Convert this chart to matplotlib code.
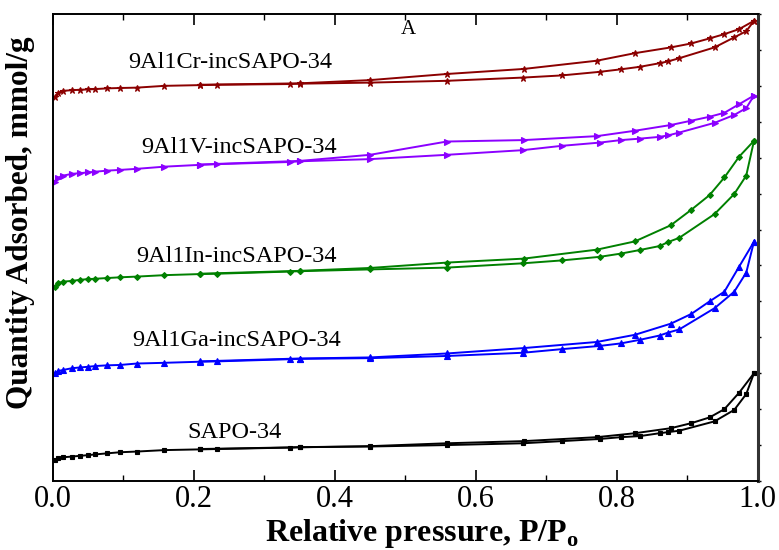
import matplotlib
matplotlib.use("Agg")
import matplotlib.pyplot as plt
from matplotlib.ticker import MultipleLocator

plt.rcParams["font.family"] = ["Liberation Serif", "DejaVu Serif"]
plt.rcParams["mathtext.fontset"] = "custom"
plt.rcParams["mathtext.rm"] = "Liberation Serif"
plt.rcParams["mathtext.bf"] = "Liberation Serif:bold"

# Relative pressure points (P/Po) for the adsorption and desorption branches
p_ads = [0.003, 0.007, 0.014, 0.027, 0.038, 0.05, 0.06, 0.077, 0.095, 0.119,
         0.158, 0.208, 0.233, 0.336, 0.35, 0.45, 0.559, 0.667, 0.722, 0.776,
         0.806, 0.833, 0.861, 0.873, 0.889, 0.939, 0.967, 0.984, 0.995]
p_des = [0.995, 0.974, 0.953, 0.932, 0.906, 0.877, 0.826, 0.772, 0.668,
         0.559, 0.45, 0.35, 0.208]

# Quantity adsorbed (curves stacked with vertical offsets)
cr_ads = [10.69, 10.80, 10.86, 10.88, 10.89, 10.90, 10.91, 10.93, 10.94, 10.95,
          11.00, 11.02, 11.03, 11.05, 11.06, 11.09, 11.14, 11.23, 11.29, 11.39,
          11.46, 11.53, 11.63, 11.68, 11.77, 12.07, 12.35, 12.52, 12.81]
cr_des = [12.81, 12.58, 12.44, 12.32, 12.18, 12.07, 11.91, 11.70, 11.47,
          11.33, 11.16, 11.07, 11.03]

v_ads = [8.33, 8.44, 8.50, 8.55, 8.57, 8.59, 8.61, 8.64, 8.66, 8.69,
         8.75, 8.80, 8.82, 8.88, 8.90, 8.96, 9.08, 9.21, 9.33, 9.42,
         9.49, 9.53, 9.58, 9.62, 9.70, 9.97, 10.19, 10.38, 10.73]
v_des = [10.73, 10.49, 10.25, 10.14, 10.03, 9.91, 9.75, 9.60, 9.49,
         9.45, 9.08, 8.91, 8.81]

in_ads = [5.41, 5.50, 5.55, 5.57, 5.60, 5.62, 5.63, 5.65, 5.67, 5.69,
          5.73, 5.76, 5.77, 5.83, 5.84, 5.89, 5.94, 6.06, 6.14, 6.24,
          6.33, 6.43, 6.54, 6.65, 6.77, 7.43, 7.99, 8.50, 9.47]
in_des = [9.47, 9.03, 8.45, 7.96, 7.55, 7.12, 6.67, 6.44, 6.19,
          6.08, 5.93, 5.85, 5.77]

ga_ads = [3.00, 3.06, 3.09, 3.14, 3.16, 3.18, 3.20, 3.22, 3.23, 3.27,
          3.29, 3.32, 3.33, 3.39, 3.40, 3.42, 3.48, 3.57, 3.67, 3.76,
          3.83, 3.93, 4.05, 4.13, 4.22, 4.81, 5.27, 5.80, 6.66]
ga_des = [6.66, 5.97, 5.27, 5.00, 4.65, 4.38, 4.07, 3.87, 3.70,
          3.55, 3.44, 3.41, 3.33]

sapo_ads = [0.585, 0.63, 0.66, 0.68, 0.70, 0.72, 0.74, 0.77, 0.80, 0.82,
            0.86, 0.88, 0.89, 0.93, 0.94, 0.96, 1.00, 1.05, 1.11, 1.17,
            1.22, 1.25, 1.33, 1.36, 1.40, 1.66, 1.98, 2.42, 3.00]
sapo_des = [3.00, 2.46, 2.00, 1.77, 1.61, 1.47, 1.33, 1.22, 1.11,
            1.05, 0.97, 0.94, 0.89]

names = ["9Al1Cr-incSAPO-34", "9Al1V-incSAPO-34", "9Al1In-incSAPO-34",
         "9Al1Ga-incSAPO-34", "SAPO-34"]

series = [
    (cr_ads, cr_des, "#8B0000", "*", 5),
    (v_ads, v_des, "#8B00FF", ">", 4),
    (in_ads, in_des, "#008000", "D", 3),
    (ga_ads, ga_des, "#0000FF", "^", 4),
    (sapo_ads, sapo_des, "#000000", "s", 3),
]

# label anchor (x, baseline y) in data units
label_pos = [(0.252, 11.49), (0.264, 9.12), (0.26, 6.11), (0.261, 3.77), (0.257, 1.19)]

fig = plt.figure(figsize=(7.79, 5.50), dpi=100)
ax = fig.add_axes([53 / 779, (550 - 481) / 550, (757.5 - 53) / 779, (481 - 14) / 550])

for (ads, des, color, marker, ms), name, (lx, ly) in zip(series, names, label_pos):
    ax.plot(p_ads, ads, color=color, marker=marker, markersize=ms, lw=1.4,
            markeredgewidth=0.8)
    ax.plot(p_des, des, color=color, marker=marker, markersize=ms, lw=1.4,
            markeredgewidth=0.8)
    ax.text(lx, ly, name, ha="center", va="baseline", fontsize=17.5)

ax.text(0.504, 12.44, "A", ha="center", va="baseline", fontsize=15)

ax.set_xlim(0, 1.0)
ax.set_ylim(0, 13)

ax.xaxis.set_minor_locator(MultipleLocator(0.1))
ax.set_xticks([0.0, 0.2, 0.4, 0.6, 0.8, 1.0])
ax.set_xticklabels(["0.0", "0.2", "0.4", "0.6", "0.8", "1.0"])
ax.tick_params(axis="x", which="major", direction="in", length=8, width=1.2,
               top=True, labelsize=22, pad=3)
ax.tick_params(axis="x", which="minor", direction="in", length=4, width=1.0,
               top=True)

ax.yaxis.set_major_locator(MultipleLocator(1))
ax.tick_params(axis="y", which="both", left=False, right=True, labelleft=False,
               direction="out", length=2.5, width=1.0)

for side in ["left", "bottom", "top"]:
    ax.spines[side].set_linewidth(1.4)
ax.spines["right"].set_linewidth(2.2)
ax.spines["right"].set_color("#333333")

fig.text(422 / 779, (550 - 541) / 550, r"Relative pressure, P/P$_{\mathregular{o}}$",
         ha="center", va="baseline", fontsize=23, fontweight="bold")
fig.text(21 / 779, 1 - 223 / 550, "Quantity Adsorbed, mmol/g", rotation=90,
         ha="center", va="center", fontsize=22.5, fontweight="bold")

fig.savefig("out.png", dpi=100)
